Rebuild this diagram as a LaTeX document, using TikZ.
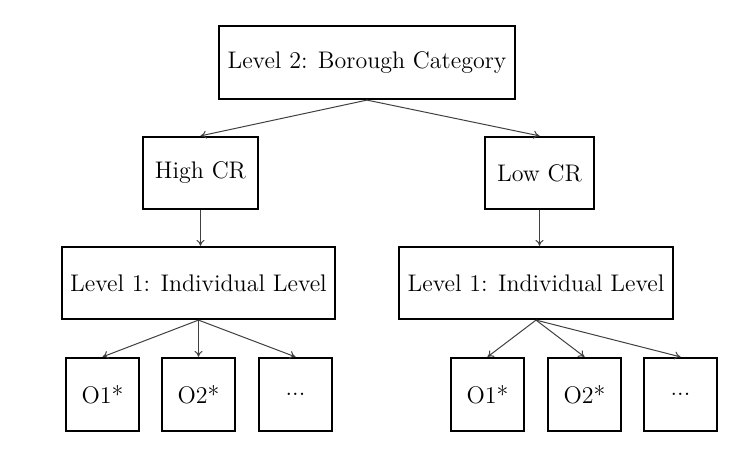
\documentclass[tikz,border=0pt]{standalone}
\usetikzlibrary{arrows.meta}
\begin{document}
\begin{tikzpicture}[x=0.5pt,y=-0.5pt,
  box/.style={draw=black,line width=1.1pt,rectangle,inner sep=0pt,font=\fontsize{12}{14.5}\selectfont},
  conn/.style={draw=black!75,line width=0.5pt,-{To[length=3pt,width=4pt]}}]
\useasboundingbox (0,0) rectangle (749,458);
\node[box,minimum width=148pt,minimum height=36.5pt] (top) at (367,62.5) {Level 2: Borough Category};
\node[box,minimum width=57.5pt,minimum height=36pt] (high) at (200.5,173) {High CR};
\node[box,minimum width=54.5pt,minimum height=36pt] (low) at (539.5,173) {Low CR};
\node[box,minimum width=136.5pt,minimum height=36pt] (l1l) at (198.5,283) {Level 1: Individual Level};
\node[box,minimum width=137pt,minimum height=36pt] (l1r) at (536,283) {Level 1: Individual Level};
\node[box,minimum width=36.5pt,minimum height=36.5pt] (lo1) at (102.5,394.5) {O1*};
\node[box,minimum width=36.5pt,minimum height=36.5pt] (lo2) at (198.5,394.5) {O2*};
\node[box,minimum width=36.5pt,minimum height=36.5pt] (lo3) at (295.5,394.5) {...};
\node[box,minimum width=36.5pt,minimum height=36.5pt] (ro1) at (487.5,394.5) {O1*};
\node[box,minimum width=36.5pt,minimum height=36.5pt] (ro2) at (584.5,394.5) {O2*};
\node[box,minimum width=36.5pt,minimum height=36.5pt] (ro3) at (680.5,394.5) {...};
\draw[conn] (top.south) -- (high.north);
\draw[conn] (top.south) -- (low.north);
\draw[conn] (high.south) -- (high.south |- l1l.north);
\draw[conn] (low.south) -- (low.south |- l1r.north);
\draw[conn] (l1l.south) -- (lo1.north);
\draw[conn] (l1l.south) -- (lo2.north);
\draw[conn] (l1l.south) -- (lo3.north);
\draw[conn] (l1r.south) -- (ro1.north);
\draw[conn] (l1r.south) -- (ro2.north);
\draw[conn] (l1r.south) -- (ro3.north);
\end{tikzpicture}
\end{document}
